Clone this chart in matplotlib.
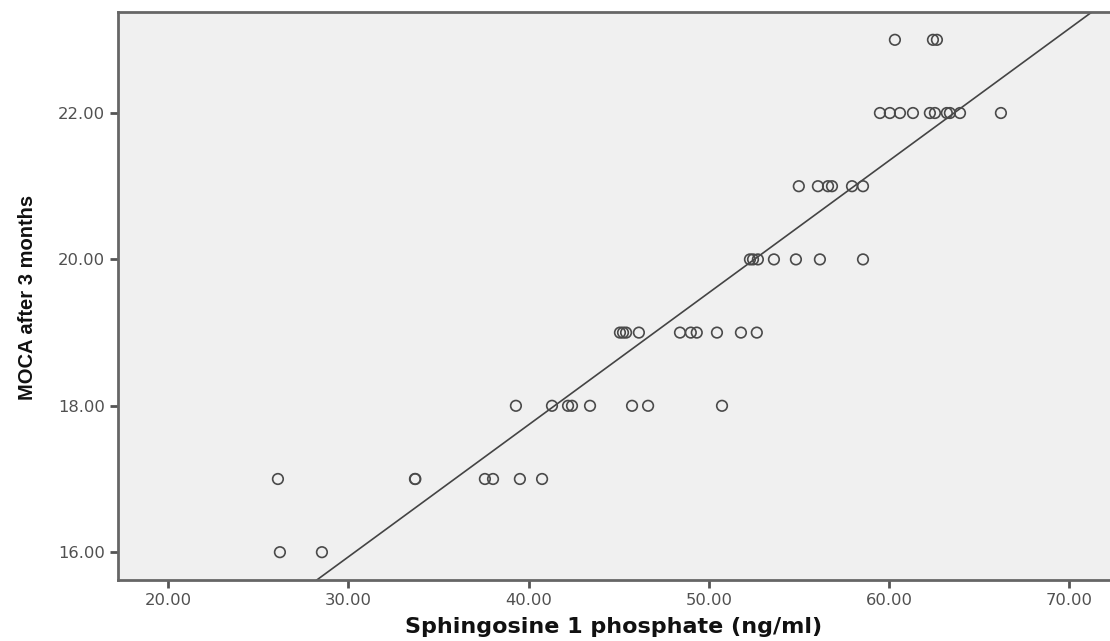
import matplotlib
matplotlib.use("Agg")
import matplotlib.pyplot as plt
import numpy as np

# Data (S1P vs MOCA after 3 months)
moca_23 = [60.32, 62.43, 62.65]
moca_22 = [59.49, 60.04, 60.60, 61.32, 62.26, 62.54, 63.20, 63.37, 63.93, 66.20]
moca_21 = [54.99, 56.05, 56.61, 56.83, 57.94, 58.55]
moca_20 = [52.28, 52.45, 52.72, 53.61, 54.83, 56.16, 58.55]
moca_19 = [45.07, 45.24, 45.41, 46.12, 48.40, 49.00, 49.33, 50.45, 51.78, 52.66]
moca_18 = [39.30, 41.30, 42.19, 42.41, 43.41, 45.74, 46.63, 50.73]
moca_17 = [26.10, 33.70, 33.72, 37.58, 38.03, 39.52, 40.75]
moca_16 = [26.21, 28.54]

groups = {23: moca_23, 22: moca_22, 21: moca_21, 20: moca_20,
          19: moca_19, 18: moca_18, 17: moca_17, 16: moca_16}

fit_slope = 0.1805
fit_intercept = 10.52

x_ticks = [20, 30, 40, 50, 60, 70]
y_ticks = [16, 18, 20, 22]

xs = []
ys = []
for yv, xv in groups.items():
    xs.extend(xv)
    ys.extend([yv] * len(xv))
xs = np.array(xs)
ys = np.array(ys, dtype=float)

fig = plt.figure(figsize=(11.10, 6.41), dpi=100)
ax = fig.add_axes([118 / 1110, 61 / 641, 1 - 118 / 1110, (580 - 12) / 641])
ax.set_facecolor("#f0f0f0")

xlim = (17.23, 72.25)
ylim = (15.62, 23.38)
ax.set_xlim(*xlim)
ax.set_ylim(*ylim)

ax.scatter(xs, ys, s=58, facecolors="none", edgecolors="#4a4a4a",
           linewidths=1.2, zorder=3)

lx = np.array(xlim)
ax.plot(lx, fit_intercept + fit_slope * lx, color="#444444", lw=1.2, zorder=2)

for side in ["left", "bottom", "top"]:
    ax.spines[side].set_color("#666666")
    ax.spines[side].set_linewidth(2.0)
ax.spines["right"].set_visible(False)

ax.set_xticks(x_ticks)
ax.set_xticklabels([f"{v:.2f}" for v in x_ticks])
ax.set_yticks(y_ticks)
ax.set_yticklabels([f"{v:.2f}" for v in y_ticks])
ax.tick_params(axis="both", direction="out", length=6, width=2,
               color="#555555", labelcolor="#505050", labelsize=11.8)
for lab in ax.get_xticklabels() + ax.get_yticklabels():
    lab.set_family("DejaVu Sans")

ax.set_xlabel("Sphingosine 1 phosphate (ng/ml)", fontsize=16,
              fontweight="bold", family="DejaVu Sans", color="#111111",
              labelpad=6)
fig.text(28 / 1110, 1 - 297 / 641, "MOCA after 3 months", rotation=90,
         ha="center", va="center", fontsize=14.5, fontweight="bold",
         family=["Liberation Sans", "DejaVu Sans"],
         color="#111111")

fig.savefig("out.png", dpi=100)
